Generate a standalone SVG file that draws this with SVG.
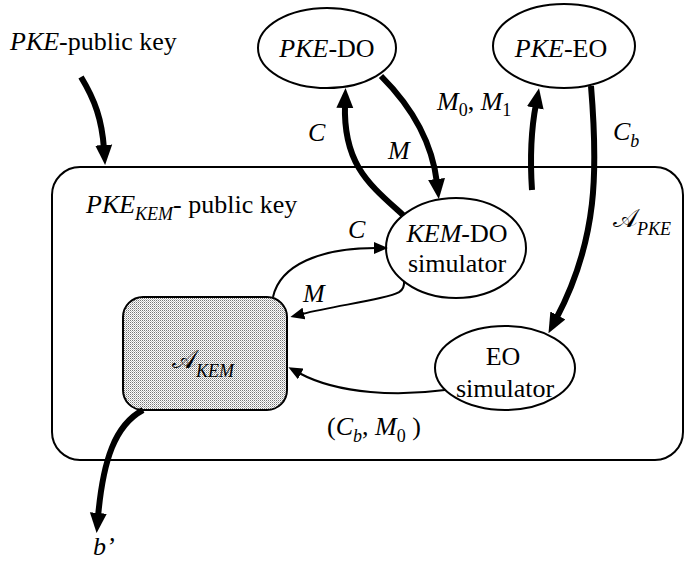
<svg xmlns="http://www.w3.org/2000/svg" width="685" height="561" viewBox="0 0 685 561">
<style>
text{font-family:"Liberation Serif","Times New Roman","DejaVu Serif",serif;font-size:26px;fill:#000}
.it{font-style:italic}
.sub{font-size:18px;font-style:italic}
.subn{font-size:18px}
.node{fill:#fff;stroke:#000;stroke-width:2}
.thick{fill:none;stroke:#000;stroke-width:6;marker-end:url(#hk)}
.thin{fill:none;stroke:#000;stroke-width:2;marker-end:url(#hn)}
</style>
<defs>
<marker id="hk" markerUnits="userSpaceOnUse" markerWidth="20" markerHeight="18" refX="4" refY="8.5" orient="auto" viewBox="0 0 20 17">
<path d="M0,0 L20,8.5 L0,17 z" fill="#000"/>
</marker>
<marker id="hn" markerUnits="userSpaceOnUse" markerWidth="14" markerHeight="12" refX="2" refY="6" orient="auto" viewBox="0 0 14 12">
<path d="M0,0 L14,6 L0,12 z" fill="#000"/>
</marker>
<pattern id="dots" width="2" height="2" patternUnits="userSpaceOnUse">
<rect width="2" height="2" fill="#fff"/>
<rect width="1" height="1" fill="#777"/>
<rect x="1" y="1" width="1" height="1" fill="#bbb"/>
</pattern>
</defs>

<g id="adversary-pke">
<rect x="52" y="167" width="631" height="293" rx="28" fill="none" stroke="#000" stroke-width="2"/>
<text x="613" y="227">𝒜</text>
<text x="637" y="235" class="sub">PKE</text>
</g>

<g id="pke-do">
<ellipse cx="327" cy="48" rx="69" ry="40" class="node"/>
<text x="327" y="57" text-anchor="middle"><tspan class="it">PKE</tspan>-DO</text>
</g>

<g id="pke-eo">
<ellipse cx="564" cy="46" rx="71" ry="42" class="node"/>
<text x="561" y="57" text-anchor="middle"><tspan class="it">PKE</tspan>-EO</text>
</g>

<g id="kem-do-simulator">
<ellipse cx="456" cy="248" rx="70" ry="50" class="node"/>
<text x="457" y="242" text-anchor="middle"><tspan class="it">KEM</tspan>-DO</text>
<text x="457" y="272" text-anchor="middle">simulator</text>
</g>

<g id="eo-simulator">
<ellipse cx="505" cy="368" rx="70" ry="42" class="node"/>
<text x="503" y="365" text-anchor="middle">EO</text>
<text x="505" y="397" text-anchor="middle">simulator</text>
</g>

<g id="adversary-kem">
<rect x="123" y="297" width="164" height="113" rx="20" fill="url(#dots)" stroke="#000" stroke-width="2"/>
<text x="172" y="368">𝒜</text>
<text x="196" y="377" class="sub">KEM</text>
</g>

<g id="connectors">
<path class="thick" d="M81 77 C95 100,102 120,104 149"/>
<path class="thick" d="M403 215 C370 185,343 165,345 104"/>
<path class="thick" d="M381 76 C410 105,432 140,437 183"/>
<path class="thick" d="M532 190 C530 160,531 130,536 104"/>
<path class="thick" d="M591 86 C598 170,598 240,556 319"/>
<path class="thin" d="M273 297 C280 265,320 248,376 248"/>
<path class="thin" d="M404 281 C405 292,398 294,380 298 C360 303,330 307,302 314"/>
<path class="thin" d="M445 390 C400 396,340 395,299 373"/>
<path class="thick" d="M143 410 C115 425,103 460,98 517"/>
</g>

<g id="labels">
<text x="10" y="50"><tspan class="it">PKE</tspan>-public key</text>
<text x="86" y="213"><tspan class="it">PKE</tspan><tspan class="sub" dy="7">KEM</tspan><tspan dy="-7">- public key</tspan></text>
<text x="308" y="141" class="it">C</text>
<text x="388" y="159" class="it">M</text>
<text x="437" y="110"><tspan class="it">M</tspan><tspan class="subn" dy="6">0</tspan><tspan dy="-6">, </tspan><tspan class="it">M</tspan><tspan class="subn" dy="6">1</tspan></text>
<text x="613" y="140"><tspan class="it">C</tspan><tspan class="sub" dy="7">b</tspan></text>
<text x="348" y="238" class="it">C</text>
<text x="303" y="302" class="it">M</text>
<text x="327" y="435">(<tspan class="it">C</tspan><tspan class="sub" dy="7">b</tspan><tspan dy="-7">, </tspan><tspan class="it">M</tspan><tspan class="subn" dy="7">0</tspan><tspan dy="-7"> )</tspan></text>
<text x="93" y="555" class="it">b’</text>
</g>
</svg>
